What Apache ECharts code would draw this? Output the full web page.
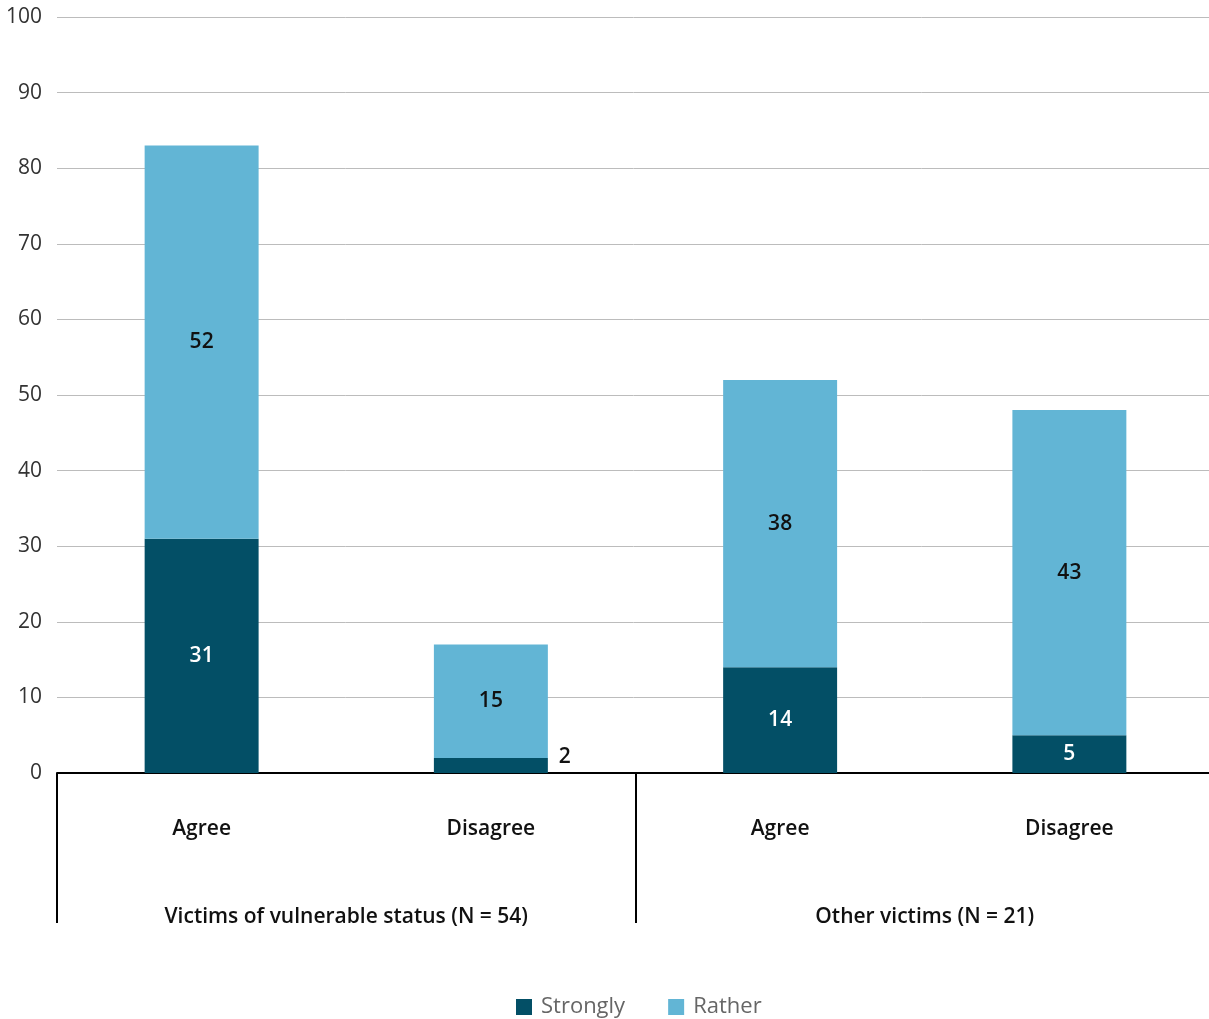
<!DOCTYPE html>
<html>
<head>
<meta charset="utf-8">
<script src="https://cdn.jsdelivr.net/npm/echarts@6/dist/echarts.min.js"></script>
<style>
  html, body { margin: 0; padding: 0; background: #fff; }
  #chart { width: 1209px; height: 1019px; }
</style>
</head>
<body>
<div id="chart"></div>
<script>
const categories = ['Agree', 'Disagree', 'Agree', 'Disagree'];
const groups = ['Victims of vulnerable status (N = 54)', 'Other victims (N = 21)'];
const strongly = [31, 2, 14, 5];
const rather = [52, 15, 38, 43];
const seriesNames = ['Strongly', 'Rather'];
const yTicks = { min: 0, max: 100, interval: 10 };

const FONT = "'Open Sans', 'Noto Sans', sans-serif";
const DARK = '#034f66';
const LIGHT = '#62b5d5';
const W = 600;

const chart = echarts.init(document.getElementById('chart'));

function buildData(values) {
  return values.map(v => {
    if (v < 4) {
      return { value: v, label: { position: 'right', color: '#111', distance: 11, offset: [0, -8] } };
    }
    return v;
  });
}

chart.setOption({
  animation: false,
  textStyle: { fontFamily: FONT },
  grid: { left: 57, top: 17, width: 1157, height: 756, containLabel: false, outerBoundsMode: 'none' },
  legend: {
    data: seriesNames,
    left: 511,
    top: 991,
    icon: 'rect',
    itemWidth: 16,
    itemHeight: 16,
    itemGap: 43,
    textStyle: { color: '#666', fontSize: 22, fontFamily: FONT, padding: [0, 0, 0, 4] }
  },
  xAxis: [
    {
      type: 'category',
      data: categories,
      position: 'bottom',
      axisLine: { show: true, lineStyle: { color: '#000', width: 2 } },
      axisTick: { show: false },
      axisLabel: { color: '#111', fontSize: 21, fontWeight: W, margin: 46, fontFamily: FONT }
    },
    {
      type: 'category',
      data: groups,
      position: 'bottom',
      axisLine: { show: false },
      axisTick: { show: true, length: 150, inside: false, lineStyle: { color: '#000', width: 2 } },
      axisLabel: { color: '#111', fontSize: 21, fontWeight: W, margin: 134, fontFamily: FONT }
    }
  ],
  yAxis: {
    type: 'value',
    min: yTicks.min,
    max: yTicks.max,
    interval: yTicks.interval,
    axisLine: { show: false },
    axisTick: { show: false },
    splitLine: { lineStyle: { color: '#bcbcbc', width: 1 } },
    axisLabel: { color: '#333', fontSize: 21, margin: 15, fontFamily: FONT }
  },
  series: [
    {
      name: seriesNames[0],
      type: 'bar',
      stack: 'total',
      xAxisIndex: 0,
      barWidth: '39.4%',
      itemStyle: { color: DARK },
      label: { show: true, position: 'inside', color: '#fff', fontSize: 21, fontWeight: W, fontFamily: FONT },
      data: buildData(strongly)
    },
    {
      name: seriesNames[1],
      type: 'bar',
      stack: 'total',
      xAxisIndex: 0,
      barWidth: '39.4%',
      itemStyle: { color: LIGHT },
      label: { show: true, position: 'inside', color: '#111', fontSize: 21, fontWeight: W, fontFamily: FONT },
      data: buildData(rather)
    }
  ]
});
</script>
</body>
</html>
